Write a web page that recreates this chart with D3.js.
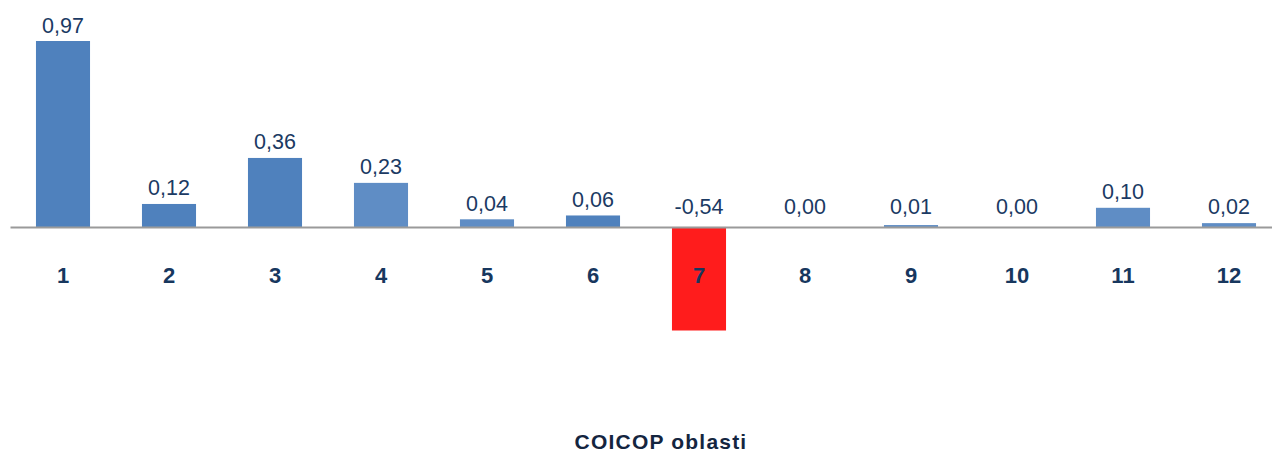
<!DOCTYPE html>
<html>
<head>
<meta charset="utf-8">
<script src="https://cdn.jsdelivr.net/npm/d3@7"></script>
<style>
  html, body { margin: 0; padding: 0; background: #ffffff; }
  svg { display: block; }
</style>
</head>
<body>
<svg id="chart" width="1272" height="455"></svg>
<script>
const categories = ["1", "2", "3", "4", "5", "6", "7", "8", "9", "10", "11", "12"];
const values = [0.97, 0.12, 0.36, 0.23, 0.04, 0.06, -0.54, 0.00, 0.01, 0.00, 0.10, 0.02];
const axisTitle = "COICOP oblasti";

const lighter = new Set(["4", "5", "9", "11", "12"]);
function barColor(c, v) {
  if (v < 0) return "#ff1c1c";
  return lighter.has(c) ? "#5f8dc5" : "#4f81bd";
}

const svg = d3.select("#chart");
const x = d3.scaleBand().domain(categories).range([10, 1282]).paddingInner(0.49).paddingOuter(0.245);
const y = d3.scaleLinear().domain([-0.54, 0.97]).range([330.5, 41]);

const data = categories.map((c, i) => ({ c, v: values[i] }));

svg.append("g").selectAll("rect").data(data).join("rect")
  .attr("x", d => x(d.c))
  .attr("width", x.bandwidth())
  .attr("y", d => y(Math.max(0, d.v)))
  .attr("height", d => Math.abs(y(d.v) - y(0)))
  .attr("fill", d => barColor(d.c, d.v));

// baseline axis
const axis = d3.axisBottom(x).tickSize(0).tickFormat("");
const ag = svg.append("g").attr("transform", `translate(0,${y(0)})`).call(axis);
ag.select(".domain").attr("stroke", "#9a9a9a").attr("stroke-width", 2);

// value labels
const fmt = v => d3.format(".2f")(v).replace(".", ",").replace("−", "-");
svg.append("g").selectAll("text").data(data).join("text")
  .attr("x", d => x(d.c) + x.bandwidth() / 2)
  .attr("y", d => Math.min(y(Math.max(0, d.v)) - 8.5, y(0) - 13))
  .attr("text-anchor", "middle")
  .attr("font-family", "Liberation Sans, Arial, sans-serif")
  .attr("font-size", 21.5)
  .attr("fill", "#1b3a63")
  .text(d => fmt(d.v));

// category labels
svg.append("g").selectAll("text").data(data).join("text")
  .attr("x", d => x(d.c) + x.bandwidth() / 2)
  .attr("y", 283)
  .attr("text-anchor", "middle")
  .attr("font-family", "Liberation Sans, Arial, sans-serif")
  .attr("font-size", 22)
  .attr("font-weight", "bold")
  .attr("fill", "#17375e")
  .text(d => d.c);

// axis title
svg.append("text")
  .attr("x", 661)
  .attr("y", 449)
  .attr("text-anchor", "middle")
  .attr("font-family", "Liberation Sans, Arial, sans-serif")
  .attr("font-size", 21)
  .attr("font-weight", "bold")
  .attr("letter-spacing", 1.2)
  .attr("fill", "#14253f")
  .text(axisTitle);
</script>
</body>
</html>
